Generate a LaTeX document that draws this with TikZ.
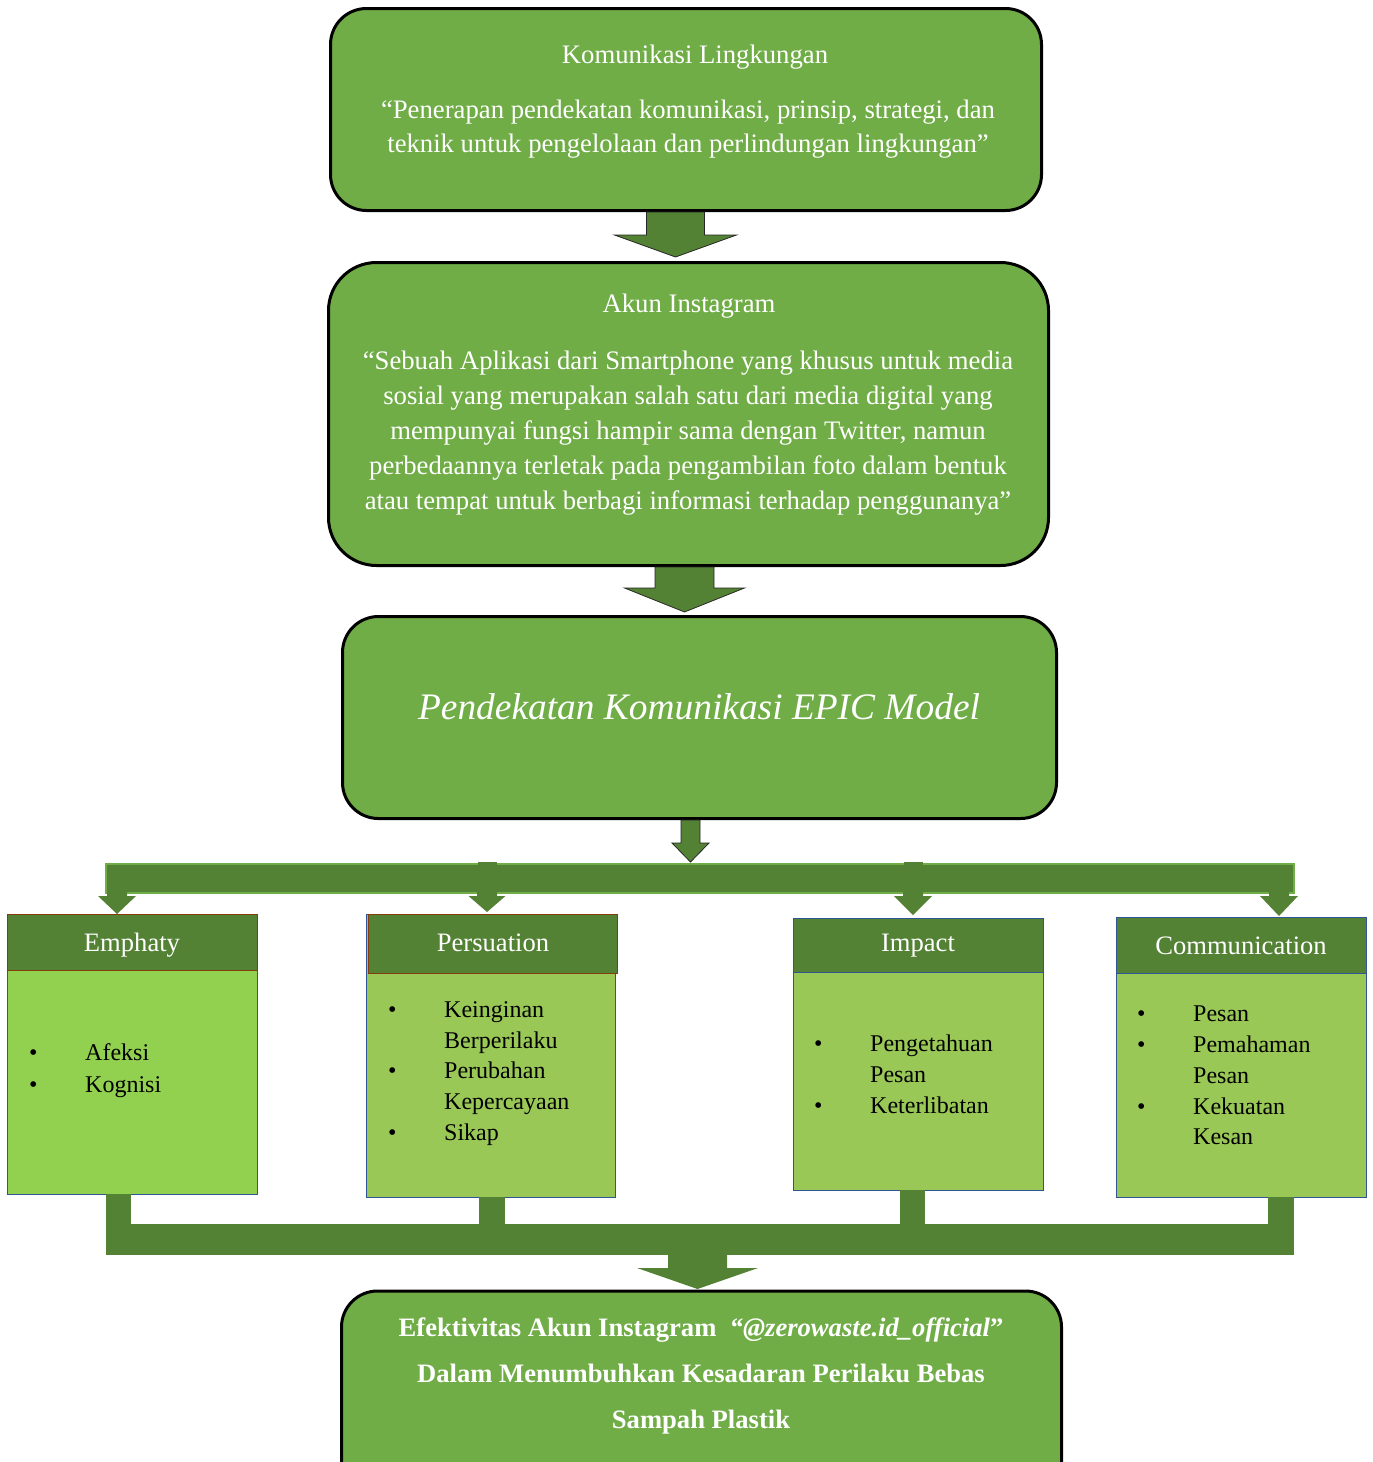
\documentclass[tikz,border=0pt]{standalone}
\usepackage{fontspec}
\setmainfont{Liberation Serif}
\usetikzlibrary{calc}
\definecolor{boxgreen}{HTML}{70AD47}
\definecolor{darkgreen}{HTML}{548235}
\definecolor{brightgreen}{HTML}{92D050}
\definecolor{olivegreen}{HTML}{9AC857}
\definecolor{hdrborder}{HTML}{843C0C}
\definecolor{blueborder}{HTML}{2F5597}
\newcommand{\blockarrow}[7]{% style, cx, top, shafthalf, shaftbottom, headhalf, tip
  \path[#1] (#2-#4,#3) -- (#2+#4,#3) -- (#2+#4,#5) -- (#2+#6,#5) -- (#2,#7) -- (#2-#6,#5) -- (#2-#4,#5) -- cycle;}
\newcommand{\bl}{\makebox[56pt][l]{•}}
\newcommand{\nb}{\hspace*{56pt}}
\begin{document}
\begin{tikzpicture}[x=1pt,y=-1pt,
  mainbox/.style={draw=black, line width=3pt, fill=boxgreen, rounded corners=36pt, inner sep=0pt},
  wtext/.style={text=white, inner sep=0pt, align=center, font=\fontsize{26.7}{34}\selectfont},
  arrowfill/.style={fill=darkgreen, draw=black!85, line width=0.8pt},
  arrowplain/.style={fill=darkgreen},
  hdrA/.style={fill=darkgreen, draw=hdrborder, line width=1pt, inner sep=0pt},
  hdrB/.style={fill=darkgreen, draw=blueborder, line width=1pt, inner sep=0pt},
  bodybox/.style={draw=blueborder, line width=1pt, inner sep=0pt},
  hdrtext/.style={text=white, inner sep=0pt, font=\fontsize{26.6}{30}\selectfont},
  bullets/.style={inner sep=0pt, align=left, anchor=west}]
\useasboundingbox (0,0) rectangle (1373,1462);
\clip (0,0) rectangle (1373,1462);

% main boxes
\node[mainbox, minimum width=711, minimum height=202] (kom) at (686,109.5) {};
\node[wtext] (komtitle) at (695,57) {Komunikasi Lingkungan};
\node[wtext] (komtext) at (688,129) {“Penerapan pendekatan komunikasi, prinsip, strategi, dan\\teknik untuk pengelolaan dan perlindungan lingkungan”};

\node[mainbox, minimum width=720, minimum height=303, rounded corners=48pt] (ig) at (688.5,414) {};
\node[wtext] (igtitle) at (689,306) {Akun Instagram};
\node[wtext, font=\fontsize{26.7}{35}\selectfont] (igtext) at (688,433) {“Sebuah Aplikasi dari Smartphone yang khusus untuk media\\sosial yang merupakan salah satu dari media digital yang\\mempunyai fungsi hampir sama dengan Twitter, namun\\perbedaannya terletak pada pengambilan foto dalam bentuk\\atau tempat untuk berbagi informasi terhadap penggunanya”};

\node[mainbox, minimum width=714, minimum height=202] (epic) at (699.5,717.5) {};
\node[wtext, font=\fontsize{37.4}{40}\selectfont\itshape] (epictext) at (699,707) {Pendekatan Komunikasi EPIC Model};

\node[mainbox, minimum width=720, minimum height=220] (hasil) at (701.5,1401) {};
\node[wtext, font=\fontsize{26.6}{46}\selectfont\bfseries] (hasiltext) at (701,1376) {Efektivitas Akun Instagram\ \ \textit{“@zerowaste.id\_official}”\\Dalam Menumbuhkan Kesadaran Perilaku Bebas\\Sampah Plastik};

% block arrows between main boxes
\blockarrow{arrowfill}{675.5}{212}{29}{235}{61}{257}
\blockarrow{arrowfill}{684.5}{567}{29.5}{588}{60}{612}
\blockarrow{arrowfill}{690.5}{820}{9.5}{843}{18.5}{862}

% branch bar
\path[fill=darkgreen, draw=boxgreen, line width=2pt] (106,864) rectangle (1294,893);
\fill[darkgreen] (478,862) rectangle (497,871);
\fill[darkgreen] (904,862) rectangle (923,871);
\blockarrow{arrowplain}{117}{890}{10}{896}{19}{914}
\blockarrow{arrowplain}{487}{890}{10}{896}{18.5}{912}
\blockarrow{arrowplain}{913}{890}{10}{896}{19}{915}
\blockarrow{arrowplain}{1279}{890}{10}{896}{19}{916}

% EPIC boxes
\node[bodybox, fill=brightgreen, minimum width=250, minimum height=280] (emp) at (132,1054) {};
\node[hdrA, minimum width=250, minimum height=56] (emph) at (132,942) {};
\node[hdrtext] (empt) at (132,945) {Emphaty};
\node[bullets, font=\fontsize{24}{32}\selectfont] (empl) at (29,1071) {\bl Afeksi\\\bl Kognisi};

\node[bodybox, fill=olivegreen, minimum width=249, minimum height=283] (per) at (490.5,1055.5) {};
\node[hdrA, minimum width=249, minimum height=59] (perh) at (492.5,943.5) {};
\node[hdrtext] (pert) at (493,943) {Persuation};
\node[bullets, font=\fontsize{24}{30.75}\selectfont] (perl) at (388,1073.5) {\bl Keinginan\\\nb Berperilaku\\\bl Perubahan\\\nb Kepercayaan\\\bl Sikap};

\node[bodybox, fill=olivegreen, minimum width=250, minimum height=272] (imp) at (918,1054) {};
\node[hdrB, minimum width=250, minimum height=54] (imph) at (918,945) {};
\node[hdrtext] (impt) at (918,946) {Impact};
\node[bullets, font=\fontsize{24}{31}\selectfont] (impl) at (814,1074) {\bl Pengetahuan\\\nb Pesan\\\bl Keterlibatan};

\node[bodybox, fill=olivegreen, minimum width=250, minimum height=280] (com) at (1241,1057) {};
\node[hdrB, minimum width=250, minimum height=56] (comh) at (1241,945) {};
\node[hdrtext] (comt) at (1241,946) {Communication};
\node[bullets, font=\fontsize{24}{30.75}\selectfont] (coml) at (1137,1075.5) {\bl Pesan\\\bl Pemahaman\\\nb Pesan\\\bl Kekuatan\\\nb Kesan};

% merge connector
\fill[darkgreen] (106,1194) rectangle (131,1226);
\fill[darkgreen] (479,1197) rectangle (505,1226);
\fill[darkgreen] (900,1190) rectangle (925,1226);
\fill[darkgreen] (1268,1197) rectangle (1294,1226);
\fill[darkgreen] (106,1224) rectangle (1294,1255);
\blockarrow{arrowplain}{697.5}{1254}{29.5}{1268}{60.5}{1289}
\end{tikzpicture}
\end{document}
